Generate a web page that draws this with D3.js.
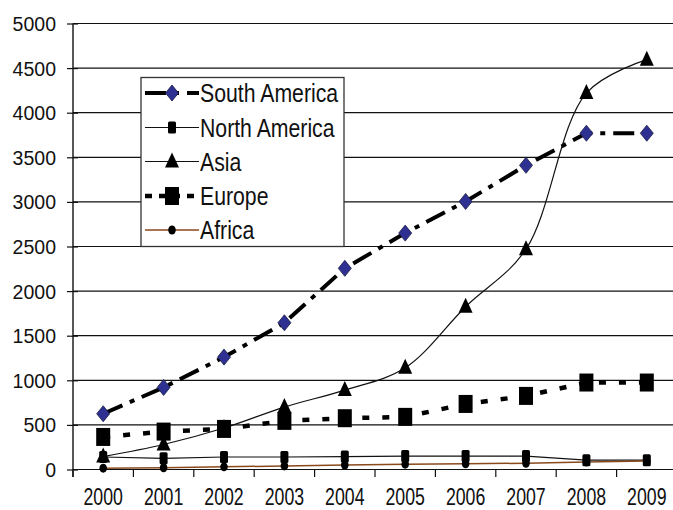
<!DOCTYPE html>
<html><head><meta charset="utf-8">
<script src="https://cdn.jsdelivr.net/npm/d3@7"></script>
<style>body{margin:0;background:#fff}svg{display:block}</style>
</head><body>
<svg id="c" width="673" height="510"></svg>
<script>
const years = ["2000","2001","2002","2003","2004","2005","2006","2007","2008","2009"];
const southAmerica = [625, 920, 1260, 1645, 2255, 2650, 3005, 3410, 3770, 3770];
const northAmerica = [140, 125, 140, 140, 145, 150, 150, 150, 105, 105];
const asia = [145, 280, 465, 700, 890, 1140, 1825, 2470, 4220, 4595];
const europe = [365, 425, 455, 545, 575, 590, 735, 825, 975, 975];
const africa = [15, 20, 30, 40, 50, 60, 65, 70, 85, 95];
const yTicks = [0,500,1000,1500,2000,2500,3000,3500,4000,4500,5000];
const seriesNames = ["South America","North America","Asia","Europe","Africa"];

const svg = d3.select("#c");
const x = d3.scaleBand().domain(years).range([73, 677]);
const y = d3.scaleLinear().domain([0,5000]).range([469.5, 23.5]);
const font = "'Liberation Sans', Arial, sans-serif";

// gridlines
svg.append("g").selectAll("line").data(yTicks).join("line")
  .attr("x1",73).attr("x2",673).attr("y1",d=>y(d)).attr("y2",d=>y(d))
  .attr("stroke","#111").attr("stroke-width",1.2);

// y axis
const yAxis = svg.append("g").attr("transform","translate(73,0)")
  .call(d3.axisLeft(y).tickValues(yTicks).tickSize(6).tickPadding(11).tickFormat(d3.format("d")));
yAxis.select(".domain").remove();
yAxis.selectAll(".tick line").attr("x1",-6).attr("x2",5).attr("stroke","#111").attr("stroke-width",1.2);
yAxis.selectAll("text").attr("font-family",font).attr("font-size","19.5px").attr("fill","#111").attr("dy","0.36em");
svg.append("line").attr("x1",73).attr("x2",73).attr("y1",y(5000)).attr("y2",477).attr("stroke","#111").attr("stroke-width",1.4);

// x axis ticks at band boundaries
const bounds = years.map(d=>x(d)).concat([x(years[years.length-1])+x.bandwidth()]);
svg.append("g").selectAll("line").data(bounds).join("line")
  .attr("x1",d=>d).attr("x2",d=>d).attr("y1",469.5).attr("y2",477)
  .attr("stroke","#111").attr("stroke-width",1.2);
svg.append("g").selectAll("text").data(years).join("text")
  .attr("transform",d=>`translate(${x(d)+x.bandwidth()/2},504.5) scale(0.77,1)`)
  .attr("text-anchor","middle").attr("font-family",font).attr("font-size","23px").attr("fill","#111")
  .text(d=>d);

const cx = d => x(d)+x.bandwidth()/2;

const series = [
  {name:"South America", values:southAmerica, stroke:"#000", width:4, dash:"21,8,5,8", curve:d3.curveLinear, marker:"diamond"},
  {name:"North America", values:northAmerica, stroke:"#111", width:1.2, dash:null, curve:d3.curveLinear, marker:"smallsquare"},
  {name:"Asia", values:asia, stroke:"#111", width:1.2, dash:null, curve:d3.curveCatmullRom.alpha(0.5), marker:"triangle"},
  {name:"Europe", values:europe, stroke:"#000", width:4.5, dash:"7,13", curve:d3.curveLinear, marker:"bigsquare"},
  {name:"Africa", values:africa, stroke:"#8a4a1c", width:1.5, dash:null, curve:d3.curveLinear, marker:"circle"}
];

function drawMarker(g, type, px, py){
  if(type==="diamond"){
    g.append("path").attr("d",`M${px},${py-8}L${px+6.5},${py}L${px},${py+8}L${px-6.5},${py}Z`)
      .attr("fill","#2e3192").attr("stroke","#1a1a40").attr("stroke-width",0.8);
  } else if(type==="smallsquare"){
    g.append("rect").attr("x",px-4).attr("y",py-6).attr("width",8).attr("height",12).attr("rx",1.5).attr("fill","#000");
  } else if(type==="triangle"){
    g.append("path").attr("d",`M${px},${py-9}L${px+7},${py+6}L${px-7},${py+6}Z`).attr("fill","#000");
  } else if(type==="bigsquare"){
    g.append("rect").attr("x",px-7).attr("y",py-9).attr("width",14).attr("height",18).attr("fill","#000");
  } else if(type==="circle"){
    g.append("ellipse").attr("cx",px).attr("cy",py).attr("rx",3.8).attr("ry",4.5).attr("fill","#000");
  }
}

// lines
const lg = svg.append("g");
series.forEach(s=>{
  const line = d3.line().x((d,i)=>cx(years[i])).y(d=>y(d)).curve(s.curve);
  lg.append("path").datum(s.values).attr("d",line).attr("fill","none")
    .attr("stroke",s.stroke).attr("stroke-width",s.width)
    .attr("stroke-dasharray",s.dash);
});
// markers
const mg = svg.append("g");
series.forEach(s=>{
  s.values.forEach((v,i)=>drawMarker(mg, s.marker, cx(years[i]), y(v)));
});

// legend
const leg = svg.append("g");
leg.append("rect").attr("x",141).attr("y",77.5).attr("width",203).attr("height",169)
  .attr("fill","#fff").attr("stroke","#333").attr("stroke-width",1.3);
const legY = [93,127.5,161.5,196,230];
series.forEach((s,i)=>{
  const yy = legY[i];
  leg.append("line").attr("x1",145).attr("x2",199).attr("y1",yy).attr("y2",yy)
    .attr("stroke",s.stroke).attr("stroke-width",s.width)
    .attr("stroke-dasharray", s.name==="South America" ? "21,8,5,8" : (s.dash ? "7,7" : null));
  drawMarker(leg, s.marker, 172, yy);
  leg.append("text").attr("transform",`translate(200,${yy+9}) scale(0.85,1)`)
    .attr("font-family",font).attr("font-size","25px").attr("fill","#111").text(s.name);
});
</script>
</body></html>
